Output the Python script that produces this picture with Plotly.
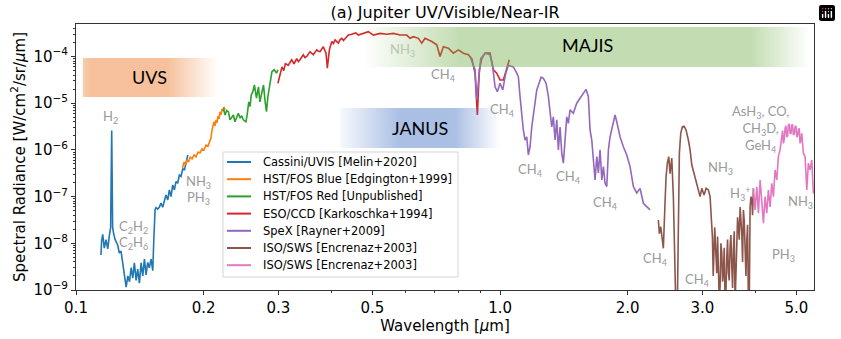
import math

import plotly.graph_objects as go

# Jupiter reflected/emitted spectrum, UV -> near-IR, one segment per instrument
wl_uvis = [0.1145, 0.1149, 0.1156, 0.1166, 0.1177, 0.1188, 0.1198, 0.1207, 0.1214, 0.1220,
           0.1227, 0.1237, 0.1254, 0.1265, 0.1277, 0.1289, 0.1301, 0.1313, 0.1325, 0.1337,
           0.1349, 0.1361, 0.1373, 0.1386, 0.1398, 0.1411, 0.1424, 0.1437, 0.1450, 0.1463,
           0.1476, 0.1489, 0.1503, 0.1517, 0.1525, 0.1536, 0.1544, 0.1558, 0.1572, 0.1586,
           0.1601, 0.1616, 0.1630, 0.1646, 0.1660, 0.1675, 0.1691, 0.1706, 0.1721, 0.1737,
           0.1753, 0.1769, 0.1786, 0.1802, 0.1818, 0.1835]
rad_uvis = [5.6e-9, 1.1e-8, 1.55e-8, 7.9e-9, 1.2e-8, 7.6e-9, 1.4e-8, 2.2e-8, 2.6e-6, 2.2e-8,
            1.6e-8, 1.2e-8, 9.2e-9, 6.2e-9, 6.8e-9, 3.8e-9, 1.85e-9, 1.15e-9, 2.0e-9, 1.5e-9,
            3.0e-9, 1.8e-9, 3.8e-9, 1.6e-9, 2.8e-9, 1.4e-9, 3.8e-9, 2.0e-9, 4.6e-9, 2.1e-9,
            3.9e-9, 3.0e-9, 4.6e-9, 2.6e-9, 1.05e-8, 5.2e-8, 5.8e-8, 5.4e-8, 5.9e-8, 7.3e-8,
            5.9e-8, 8.5e-8, 1.08e-7, 8.5e-8, 1.39e-7, 1.0e-7, 1.78e-7, 1.39e-7, 2.1e-7, 1.93e-7,
            2.9e-7, 2.7e-7, 4.0e-7, 3.7e-7, 5.6e-7, 7.8e-7]

wl_fos_blue = [0.1783, 0.1798, 0.1813, 0.1828, 0.1843, 0.1857, 0.1878, 0.1899, 0.1919, 0.1940,
               0.1961, 0.1982, 0.2004, 0.2026, 0.2048, 0.2064, 0.2081, 0.2093, 0.2104, 0.2116,
               0.2127, 0.2139, 0.2150, 0.2162, 0.2174, 0.2186, 0.2198, 0.2209, 0.2221, 0.2233,
               0.2246]
rad_fos_blue = [4.1e-7, 5.5e-7, 4.8e-7, 6.1e-7, 5.5e-7, 7.1e-7, 6.4e-7, 7.8e-7, 7.1e-7, 9.0e-7,
                8.6e-7, 1.05e-6, 1.0e-6, 1.27e-6, 1.21e-6, 1.55e-6, 1.8e-6, 2.67e-6, 3.1e-6, 4.0e-6,
                3.26e-6, 4.4e-6, 3.8e-6, 5.3e-6, 4.6e-6, 6.5e-6, 5.6e-6, 7.5e-6, 6.8e-6, 8.3e-6,
                7.2e-6]

wl_fos_red = [0.2226, 0.2246, 0.2266, 0.2287, 0.2308, 0.2330, 0.2350, 0.2371, 0.2392, 0.2414,
              0.2437, 0.2459, 0.2481, 0.2516, 0.2533, 0.2555, 0.2573, 0.2590, 0.2612, 0.2635,
              0.2664, 0.2693, 0.2714, 0.2744, 0.2768, 0.2793, 0.2813, 0.2835, 0.2866, 0.2898,
              0.2934, 0.2971, 0.2994]
rad_fos_red = [7.8e-6, 5.6e-6, 7.0e-6, 6.6e-6, 4.4e-6, 5.0e-6, 5.6e-6, 4.0e-6, 5.2e-6, 6.1e-6,
               4.8e-6, 5.4e-6, 4.4e-6, 4.0e-6, 5.6e-6, 1.07e-5, 8.5e-6, 1.5e-5, 1.77e-5, 2.45e-5,
               1.28e-5, 2.25e-5, 1.07e-5, 1.92e-5, 2.45e-5, 1.07e-5, 6.6e-6, 1.38e-5, 2.45e-5, 4.75e-5,
               5.2e-5, 4.4e-5, 5.2e-5]

wl_eso = [0.2994, 0.3028, 0.3060, 0.3090, 0.3117, 0.3167, 0.3195, 0.3226, 0.3267, 0.3316,
          0.3345, 0.3375, 0.3436, 0.3468, 0.3500, 0.3532, 0.3564, 0.3628, 0.3660, 0.3695,
          0.3728, 0.3762, 0.3830, 0.3887, 0.3915, 0.3958, 0.4011, 0.4047, 0.4083, 0.4120,
          0.4157, 0.4196, 0.4235, 0.4273, 0.4311, 0.4350, 0.4389, 0.4448, 0.4508, 0.4570,
          0.4632, 0.4695, 0.4760, 0.4891, 0.5026, 0.5212, 0.5405, 0.5603, 0.5810, 0.6025,
          0.6134, 0.6245, 0.6417, 0.6537, 0.6653, 0.6901, 0.7092, 0.7219, 0.7351, 0.7553,
          0.7761, 0.7974, 0.8194, 0.8419, 0.8577, 0.8730, 0.8840, 0.8937, 0.9054, 0.9218,
          0.9471, 0.9643, 0.9822, 1.0000, 1.0181, 1.0371, 1.0518]
rad_eso = [2.68e-5, 4.0e-5, 6.0e-5, 5.0e-5, 7.0e-5, 6.5e-5, 7.6e-5, 8.5e-5, 7.0e-5, 9.0e-5,
           7.8e-5, 8.5e-5, 1.09e-4, 9.5e-5, 1.0e-4, 1.15e-4, 1.27e-4, 1.09e-4, 1.2e-4, 1.39e-4,
           1.3e-4, 1.27e-4, 1.62e-4, 1.18e-4, 5.6e-5, 1.39e-4, 2.1e-4, 1.9e-4, 2.27e-4, 2.05e-4,
           1.93e-4, 2.3e-4, 2.45e-4, 2.2e-4, 2.45e-4, 2.7e-4, 2.88e-4, 2.95e-4, 3.13e-4, 3.2e-4,
           2.88e-4, 3.0e-4, 3.13e-4, 3.4e-4, 2.88e-4, 3.13e-4, 3.0e-4, 3.13e-4, 2.88e-4, 2.88e-4,
           2.45e-4, 2.66e-4, 2.45e-4, 1.93e-4, 2.45e-4, 2.1e-4, 1.78e-4, 1.0e-4, 1.62e-4, 1.5e-4,
           1.18e-4, 1.39e-4, 1.18e-4, 1.09e-4, 9.0e-5, 4.4e-5, 5.6e-6, 5.2e-5, 9.0e-5, 1.18e-4,
           1.18e-4, 5.2e-5, 4.4e-5, 3.15e-5, 3.15e-5, 6.0e-5, 8.5e-5]

wl_spex = [0.8496, 0.8730, 0.8811, 0.8906, 0.9004, 0.9218, 0.9471, 0.9611, 0.9732, 0.9854,
           1.0000, 1.0148, 1.0315, 1.0461, 1.0749, 1.0949, 1.1045, 1.1147, 1.1251, 1.1348,
           1.1454, 1.1561, 1.1662, 1.1770, 1.1879, 1.1983, 1.2094, 1.2206, 1.2361, 1.2496,
           1.2653, 1.2840, 1.3001, 1.3119, 1.3241, 1.3357, 1.3481, 1.3606, 1.3725, 1.3852,
           1.3980, 1.4102, 1.4233, 1.4365, 1.4490, 1.4624, 1.4889, 1.5166, 1.5441, 1.5720,
           1.5952, 1.6152, 1.6302, 1.6455, 1.6600, 1.6752, 1.6908, 1.7054, 1.7211, 1.7378,
           1.7527, 1.7689, 1.7853, 1.8010, 1.8172, 1.8442, 1.8673, 1.8846, 1.9187, 1.9534,
           1.9898, 2.0258, 2.0626, 2.1009, 2.1390, 2.1777, 2.2182, 2.2584]
rad_spex = [1.0e-4, 5.2e-5, 1.17e-5, 3.7e-5, 9.0e-5, 1.18e-4, 1.09e-4, 6.0e-5, 2.25e-5, 1.77e-5,
            2.68e-5, 1.92e-5, 4.4e-5, 6.5e-5, 6.0e-5, 4.4e-5, 3.7e-5, 1.38e-5, 5.1e-6, 2.67e-6,
            1.63e-6, 1.9e-6, 7.8e-7, 1.17e-6, 3.1e-6, 6.1e-6, 1.17e-5, 1.92e-5, 2.68e-5, 3.6e-5,
            3.4e-5, 2.68e-5, 1.38e-5, 6.6e-6, 3.1e-6, 5.1e-6, 1.63e-6, 4.4e-6, 1.0e-6, 3.1e-6,
            8.5e-7, 5.2e-7, 1.63e-6, 5.1e-6, 3.7e-6, 7.2e-6, 6.1e-6, 1.0e-5, 1.28e-5, 1.63e-5,
            1.98e-5, 1.38e-5, 2.67e-6, 1.63e-6, 6.1e-7, 2.27e-7, 7.2e-7, 3.2e-7, 1.0e-6, 2.27e-7,
            4.4e-7, 1.93e-7, 1.64e-7, 1.0e-6, 1.9e-6, 3.7e-6, 5.6e-6, 4.0e-6, 1.9e-6, 1.17e-6,
            7.8e-7, 4.4e-7, 1.64e-7, 1.2e-7, 1.5e-7, 7.2e-8, 6.0e-8, 5.2e-8]

wl_sws1 = [2.3623, 2.3752, 2.3933, 2.4142, 2.4273, 2.4458, 2.4632, 2.4806, 2.4995, 2.5172,
           2.5406, 2.5628, 2.5824, 2.5965, 2.6192, 2.6335, 2.6478, 2.6680, 2.6913, 2.7162,
           2.7459, 2.7804, 2.8061, 2.8322, 2.8569, 2.8834, 2.9102, 2.9356, 2.9628, 2.9903,
           3.0281, 3.0612, 3.0996, 3.1283, 3.1454, 3.1677, 3.1820, 3.1971, 3.2080, 3.2198,
           3.2320, 3.2443, 3.2580, 3.2727, 3.2880, 3.3030, 3.3180, 3.3337, 3.3480, 3.3628,
           3.3780, 3.3940, 3.4100, 3.4255, 3.4400, 3.4553, 3.4710, 3.4874, 3.5030, 3.5198,
           3.5350, 3.5505, 3.5670, 3.5834, 3.6000, 3.6166, 3.6320, 3.6482, 3.6650, 3.6820,
           3.7000, 3.7162, 3.7320, 3.7486, 3.7660, 3.7834, 3.8010, 3.8185, 3.8350, 3.8518,
           3.8700, 3.8875, 3.9060, 3.9235, 3.9400, 3.9578]
rad_sws1 = [3.16e-8, 1.6e-8, 2.26e-8, 1.0e-8, 7.8e-9, 5.17e-8, 2.65e-7, 5.2e-7, 7.2e-7, 3.1e-7,
            6.7e-7, 1.0e-7, 7.2e-9, 5e-10, 5e-10, 8.5e-8, 8.5e-7, 2.3e-6, 3.1e-6, 3.2e-6,
            2.67e-6, 1.63e-6, 1.0e-6, 4.8e-7, 3.5e-7, 2.5e-7, 1.93e-7, 1.39e-7, 1.0e-7, 1.5e-7,
            1.08e-7, 1.5e-7, 1.39e-7, 1.0e-7, 3.16e-8, 1.4e-8, 2.0e-9, 5.2e-9, 2.2e-8, 1.0e-8,
            3.0e-9, 2.28e-9, 1.4e-8, 5.2e-9, 6e-10, 1.18e-9, 1.0e-8, 6.2e-9, 1.5e-9, 2.28e-9,
            8.0e-9, 5e-10, 1.0e-9, 5.2e-9, 1.2e-8, 2.28e-9, 1.6e-9, 8.5e-9, 1.5e-8, 3.2e-9,
            1.1e-9, 7.2e-9, 1.8e-8, 5e-10, 2.5e-9, 1.0e-8, 3.6e-8, 2.26e-8, 1.2e-8, 6.0e-8,
            3.0e-8, 1.6e-8, 4.0e-9, 5.17e-8, 3.0e-8, 7.2e-9, 2.0e-9, 1.18e-8, 2.5e-8, 5e-10,
            5e-10, 6.0e-8, 1.0e-7, 8.5e-8, 4.0e-8, 1.5e-7]

wl_sws2 = [3.9578, 3.9950, 4.0320, 4.0672, 4.1050, 4.1430, 4.1792, 4.2170, 4.2562, 4.2932,
           4.3330, 4.3732, 4.4115, 4.4523, 4.4935, 4.5328, 4.5748, 4.6173, 4.6380, 4.6575,
           4.6800, 4.7007, 4.7220, 4.7443, 4.7650, 4.7857, 4.8080, 4.8301, 4.8520, 4.8750,
           4.8960, 4.9175, 4.9400, 4.9630, 4.9860, 5.0090, 5.0310, 5.0528, 5.0760, 5.0996,
           5.1230, 5.1469, 5.1918, 5.2400, 5.2886, 5.3347, 5.3841, 5.4340, 5.4816]
rad_sws2 = [1.5e-7, 5.17e-8, 1.63e-7, 4.4e-8, 2.27e-7, 7.2e-8, 2.7e-8, 1.0e-7, 4.4e-8, 1.39e-7,
            6.0e-8, 1.93e-7, 1.0e-7, 3.72e-7, 2.27e-7, 7.2e-7, 1.0e-6, 1.9e-6, 2.6e-6, 1.38e-6,
            1.7e-6, 2.9e-6, 3.3e-6, 1.9e-6, 2.0e-6, 3.4e-6, 3.6e-6, 2.28e-6, 2.2e-6, 3.4e-6,
            3.5e-6, 2.1e-6, 2.2e-6, 3.1e-6, 3.3e-6, 1.9e-6, 2.0e-6, 2.67e-6, 2.9e-6, 1.38e-6,
            1.6e-6, 2.28e-6, 8.5e-7, 7.2e-7, 1.39e-7, 5.2e-7, 3.72e-7, 6.1e-7, 1.17e-7]

SERIES = [
    ("Cassini/UVIS [Melin+2020]", wl_uvis, rad_uvis, "#1f77b4"),
    ("HST/FOS Blue [Edgington+1999]", wl_fos_blue, rad_fos_blue, "#ff7f0e"),
    ("HST/FOS Red [Unpublished]", wl_fos_red, rad_fos_red, "#2ca02c"),
    ("ESO/CCD [Karkoschka+1994]", wl_eso, rad_eso, "#d62728"),
    ("SpeX [Rayner+2009]", wl_spex, rad_spex, "#9467bd"),
    ("ISO/SWS [Encrenaz+2003]", wl_sws1, rad_sws1, "#8c564b"),
    ("ISO/SWS [Encrenaz+2003]", wl_sws2, rad_sws2, "#e377c2"),
]

# instrument coverage bands: name, x start, full colour from, full colour to, x end,
# y bottom, y top, rgb, max alpha, alpha fraction at left edge, label position
BANDS = [
    ("UVS", 0.1038, 0.108, 0.164, 0.2162, 1.36e-5, 9.3e-5, "237,125,49", 0.48, 0.8, (0.1494, 3.64e-5)),
    ("JANUS", 0.4194, 0.58, 0.783, 1.0, 1.1e-6, 7.9e-6, "68,114,196", 0.45, 0.1, (0.6475, 2.94e-6)),
    ("MAJIS", 0.475, 0.80, 3.9, 5.38, 5.96e-5, 4.28e-4, "112,173,71", 0.42, 0.0, (1.604, 1.76e-4)),
]

# absorber labels: text, wavelength, radiance
LABELS = [
    ("H<sub>2</sub>", 0.1209, 5.06e-6),
    ("C<sub>2</sub>H<sub>2</sub>", 0.1370, 2.23e-8),
    ("C<sub>2</sub>H<sub>6</sub>", 0.1370, 1.01e-8),
    ("NH<sub>3</sub>", 0.1950, 2.06e-7),
    ("PH<sub>3</sub>", 0.1950, 9.34e-8),
    ("CH<sub>4</sub>", 0.7338, 4.02e-5),
    ("CH<sub>4</sub>", 1.016, 7.15e-6),
    ("CH<sub>4</sub>", 1.177, 3.72e-7),
    ("CH<sub>4</sub>", 1.447, 2.63e-7),
    ("CH<sub>4</sub>", 1.769, 7.3e-8),
    ("CH<sub>4</sub>", 2.321, 4.61e-9),
    ("CH<sub>4</sub>", 2.915, 1.64e-9),
    ("NH<sub>3</sub>", 3.303, 4.09e-7),
    ("H<sub>3</sub><sup>+</sup>", 3.681, 1.14e-7),
    ("NH<sub>3</sub>", 5.099, 7.65e-8),
    ("PH<sub>3</sub>", 4.651, 5.61e-9),
    ("AsH<sub>3</sub>, CO,<br>CH<sub>3</sub>D,<br>GeH<sub>4</sub>", 4.104, 2.81e-6),
]

X_TICKS = [0.1, 0.2, 0.3, 0.5, 1.0, 2.0, 3.0, 5.0]
X_TICKTEXT = ["0.1", "0.2", "0.3", "0.5", "1.0", "2.0", "3.0", "5.0"]
X_MINOR = [0.4, 0.6, 0.7, 0.8, 0.9, 4.0]
Y_TICKS = [1e-9, 1e-8, 1e-7, 1e-6, 1e-5, 1e-4]
Y_TICKTEXT = ["10<sup>−9</sup>", "10<sup>−8</sup>", "10<sup>−7</sup>",
              "10<sup>−6</sup>", "10<sup>−5</sup>", "10<sup>−4</sup>"]
Y_MINOR = [m * 10.0 ** e for e in range(-9, -3) for m in range(2, 10) if m * 10.0 ** e < 5e-4]

FONT = "DejaVu Sans"
LABEL_FONT = "Lato"

W, H = 841, 339
M = dict(l=76, r=27, t=24, b=49)


def px_x(px):
    return (px - M["l"]) / (W - M["l"] - M["r"])


def px_y(py):
    return (H - M["b"] - py) / (H - M["t"] - M["b"])


fig = go.Figure()

for name, wl, rad, color in SERIES:
    fig.add_trace(go.Scatter(
        x=wl, y=rad, mode="lines", name=name, showlegend=False,
        line=dict(color=color, width=1.6),
        hovertemplate="%{x:.3f} µm: %{y:.2e}<extra>" + name + "</extra>",
    ))

# gradient coverage bands, drawn over the spectra
for name, x0, xa, xb, x1, y0, y1, rgb, amax, aleft, _ in BANDS:
    span = math.log10(x1) - math.log10(x0)
    fa = (math.log10(xa) - math.log10(x0)) / span
    fb = (math.log10(xb) - math.log10(x0)) / span
    fig.add_trace(go.Scatter(
        x=[x0, x1, x1, x0, x0], y=[y0, y0, y1, y1, y0],
        mode="lines", line=dict(width=0), fill="toself",
        fillgradient=dict(
            type="horizontal",
            colorscale=[[0, f"rgba({rgb},{amax * aleft:.3f})"],
                        [fa, f"rgba({rgb},{amax})"],
                        [fb, f"rgba({rgb},{amax})"],
                        [1, f"rgba({rgb},0)"]],
        ),
        hoverinfo="skip", showlegend=False,
    ))

for name, *_, (lx, ly) in BANDS:
    fig.add_annotation(
        x=math.log10(lx), y=math.log10(ly), text=name, showarrow=False,
        font=dict(family=LABEL_FONT, size=18, color="black"),
    )

for text, lx, ly in LABELS:
    fig.add_annotation(
        x=math.log10(lx), y=math.log10(ly), text=text, showarrow=False,
        font=dict(family=LABEL_FONT, size=13, color="#9a9a9a"),
    )
# NH3 sits inside the MAJIS band, so it reads paler
fig.add_annotation(
    x=math.log10(0.5873), y=math.log10(1.38e-4), text="NH<sub>3</sub>", showarrow=False,
    font=dict(family=LABEL_FONT, size=13, color="#b9c4b3"),
)

# legend drawn by hand so the rows sit as tight as in the original
fig.add_shape(type="rect", xref="paper", yref="paper",
              x0=px_x(223), x1=px_x(458), y0=px_y(277), y1=px_y(152),
              fillcolor="rgba(255,255,255,0.9)", line=dict(color="#d5d5d5", width=1))
for i, (name, _, _, color) in enumerate(SERIES):
    row = 162 + 17.2 * i
    fig.add_shape(type="line", xref="paper", yref="paper",
                  x0=px_x(227), x1=px_x(251), y0=px_y(row), y1=px_y(row),
                  line=dict(color=color, width=2))
    fig.add_annotation(xref="paper", yref="paper", x=px_x(261), y=px_y(row),
                       xanchor="left", yanchor="middle", text=name, showarrow=False,
                       font=dict(family=FONT, size=11.5, color="black"))

axis_common = dict(
    showline=True, linecolor="#333", linewidth=1, mirror=True, automargin=False,
    ticks="outside", ticklen=4, tickcolor="#333", showgrid=False, zeroline=False,
    tickfont=dict(family=FONT, size=15, color="black"),
)
fig.update_xaxes(
    type="log", range=[-1, math.log10(5.5)],
    tickvals=X_TICKS, ticktext=X_TICKTEXT,
    minor=dict(tickvals=X_MINOR, ticks="outside", ticklen=2, tickcolor="#333"),
    title=dict(text="Wavelength [<i>μ</i>m]", font=dict(family=FONT, size=15, color="black"),
               standoff=4),
    **axis_common,
)
fig.update_yaxes(
    type="log", range=[-9, math.log10(4.97e-4)],
    tickvals=Y_TICKS, ticktext=Y_TICKTEXT,
    minor=dict(tickvals=Y_MINOR, ticks="outside", ticklen=2, tickcolor="#333"),
    title=dict(text="Spectral Radiance [W/cm<sup>2</sup>/sr/<i>μ</i>m]",
               font=dict(family=FONT, size=15, color="black"), standoff=4),
    **axis_common,
)

fig.update_layout(
    width=W, height=H,
    margin=M,
    paper_bgcolor="white", plot_bgcolor="white",
    title=dict(text="(a) Jupiter UV/Visible/Near-IR", x=0.5, xref="paper",
               y=1 - 12 / H, yref="container", yanchor="middle",
               font=dict(family=FONT, size=16, color="black")),
    font=dict(family=FONT, color="black"),
    showlegend=False,
    # keep the mode bar but make it invisible in the static picture
    modebar=dict(bgcolor="rgba(0,0,0,0)", color="rgba(0,0,0,0)",
                 activecolor="rgba(0,0,0,0)"),
)

# the page's default body margin would push the figure off its 841x339 window
fig.write_html("out.html", post_script="document.body.style.margin = '0';")
